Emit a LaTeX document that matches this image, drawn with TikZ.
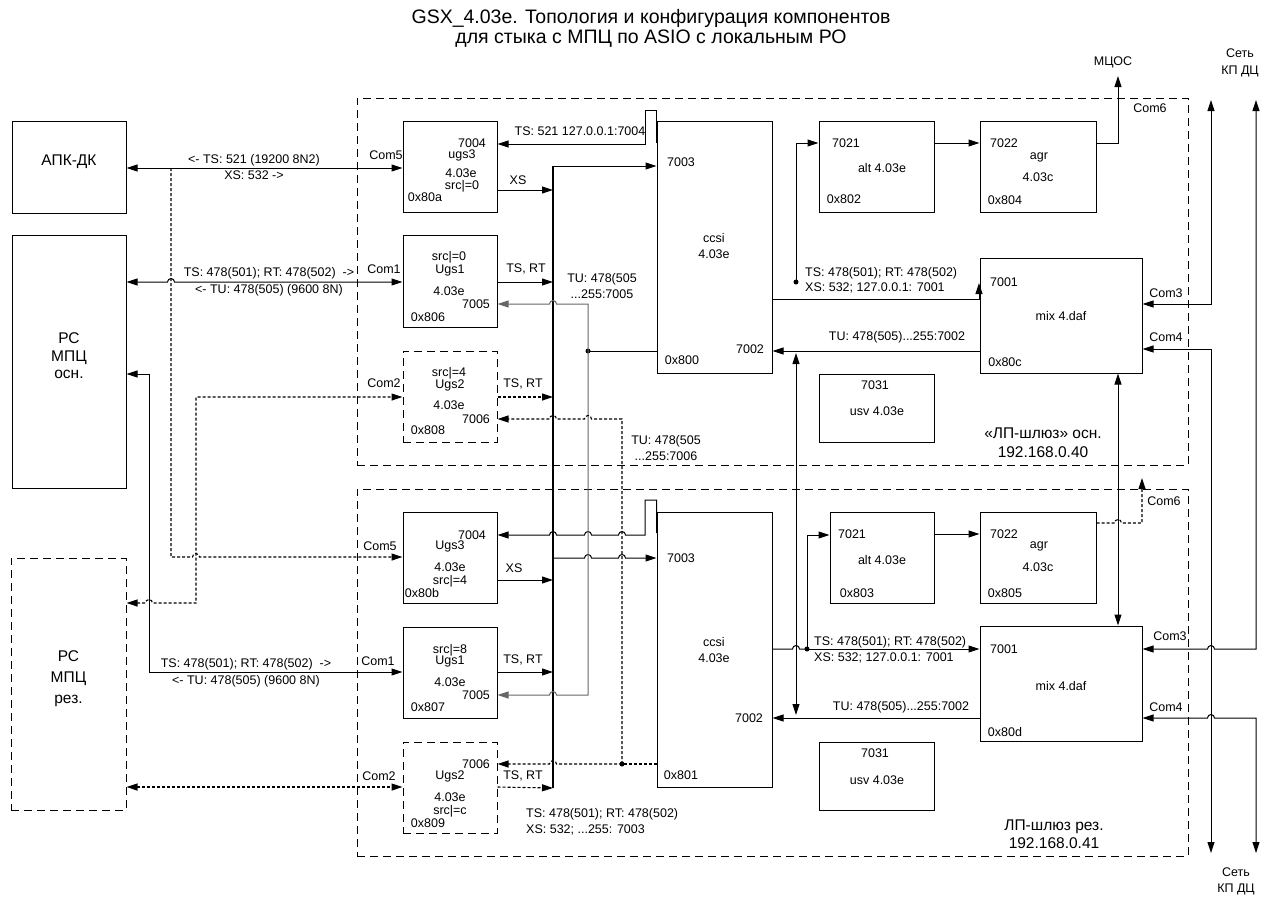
\documentclass[tikz,border=0pt]{standalone}
\usepackage{fontspec}
\setmainfont{Liberation Sans}
\usetikzlibrary{arrows.meta, positioning, calc, fit}

\begin{document}
\begin{tikzpicture}[
        x=1pt, y=-1pt,
        % Стили блоков
        modbox/.style={rectangle, draw=black, line width=1pt, inner sep=0pt, fit={#1}},
        resbox/.style={modbox={#1}, dash pattern=on 8pt off 5pt},
        tag/.style={font=\fontsize{12.5}{16}\selectfont, inner sep=0pt, align=center},
        bigtag/.style={font=\fontsize{15.5}{17.5}\selectfont, inner sep=0pt, align=center},
        % Стили связей
        link/.style={line width=1pt},
        arrow/.style={link, -{Triangle[length=11pt, width=7pt]}},
        biarrow/.style={link, {Triangle[length=11pt, width=7pt]}-{Triangle[length=11pt, width=7pt]}},
        dots/.style={line width=1.1pt, dash pattern=on 3pt off 2pt},
        bus/.style={line width=2.6pt},
        tap/.style={circle, fill=black, inner sep=0pt, minimum size=5pt}
    ]
    \useasboundingbox (0,0) rectangle (1271,898);

    % Заголовок
    \node (title) [font=\fontsize{19.5}{20}\selectfont, align=center] at (651,28)
        {GSX\_4.03e. Топология и конфигурация компонентов\\для стыка с МПЦ по ASIO с локальным РО};

    % Шлюзы
    \node (gwa) [resbox={(357,98) (1188,465)}] {};
    \node (gwb) [resbox={(357,489) (1188,856)}] {};
    \node (gwa-nm) [bigtag, font=\fontsize{15.5}{19}\selectfont] at (1043,442.5) {«ЛП-шлюз» осн.\\192.168.0.40};
    \node (gwb-nm) [bigtag, font=\fontsize{15.5}{18}\selectfont] at (1054,834) {ЛП-шлюз рез.\\192.168.0.41};

    % Внешние системы
    \node (apk) [modbox={(12,121) (126,213)}, bigtag] {АПК-ДК};
    \node (pcm) [modbox={(12,235) (126,488)}, bigtag] {РС\\МПЦ\\осн.};
    \node (pcr) [resbox={(11,558) (126,810)}, bigtag, font=\fontsize{15.5}{21}\selectfont] {РС\\МПЦ\\рез.};

    % 1. Основной шлюз
    \node (ugs3a) [modbox={(403,121) (497,212)}] {};
    \node (ugs3a-id) [tag] at (472,143) {7004};
    \node (ugs3a-nm) [tag] at (462,155) {ugs3};
    \node (ugs3a-v) [tag] at (461,173) {4.03e};
    \node (ugs3a-src) [tag] at (462,186) {src|=0};
    \node (ugs3a-adr) [tag] at (425,197) {0x80a};

    \node (ugs1a) [modbox={(403,235) (497,327)}] {};
    \node (ugs1a-src) [tag] at (449,257) {src|=0};
    \node (ugs1a-nm) [tag] at (450,270) {Ugs1};
    \node (ugs1a-v) [tag] at (449,291) {4.03e};
    \node (ugs1a-id) [tag] at (476,304) {7005};
    \node (ugs1a-adr) [tag] at (428,317) {0x806};

    \node (ugs2a) [resbox={(403,351) (497,442)}] {};
    \node (ugs2a-src) [tag] at (449,373) {src|=4};
    \node (ugs2a-nm) [tag] at (450,385) {Ugs2};
    \node (ugs2a-v) [tag] at (449,405) {4.03e};
    \node (ugs2a-id) [tag] at (476,419) {7006};
    \node (ugs2a-adr) [tag] at (428,430) {0x808};

    \node (ccsia) [modbox={(657,121) (772,373)}] {};
    \node (ccsia-in) [tag] at (681,162) {7003};
    \node (ccsia-nm) [tag] at (714,246) {ccsi\\4.03e};
    \node (ccsia-out) [tag] at (750,349) {7002};
    \node (ccsia-adr) [tag] at (682,360) {0x800};

    \node (alta) [modbox={(819,121) (934,212)}] {};
    \node (alta-id) [tag] at (846,143) {7021};
    \node (alta-nm) [tag] at (882,168) {alt 4.03e};
    \node (alta-adr) [tag] at (844,199) {0x802};

    \node (agra) [modbox={(980,121) (1096,212)}] {};
    \node (agra-id) [tag] at (1004,143) {7022};
    \node (agra-nm) [tag] at (1039,157) {agr};
    \node (agra-v) [tag] at (1038,177) {4.03c};
    \node (agra-adr) [tag] at (1005,200) {0x804};

    \node (mixa) [modbox={(980,258) (1142,373)}] {};
    \node (mixa-id) [tag] at (1004,282) {7001};
    \node (mixa-nm) [tag] at (1061,316) {mix 4.daf};
    \node (mixa-adr) [tag] at (1005,362) {0x80c};

    \node (usva) [modbox={(819,374) (934,442)}] {};
    \node (usva-id) [tag] at (875,385) {7031};
    \node (usva-nm) [tag] at (877,411) {usv 4.03e};

    % 2. Резервный шлюз
    \node (ugs3b) [modbox={(403,512) (497,603)}] {};
    \node (ugs3b-id) [tag] at (472,535) {7004};
    \node (ugs3b-nm) [tag] at (450,546) {Ugs3};
    \node (ugs3b-v) [tag] at (450,567) {4.03e};
    \node (ugs3b-src) [tag] at (450,581) {src|=4};
    \node (ugs3b-adr) [tag] at (422,593) {0x80b};

    \node (ugs1b) [modbox={(403,627) (497,718)}] {};
    \node (ugs1b-src) [tag] at (450,650) {src|=8};
    \node (ugs1b-nm) [tag] at (450,661) {Ugs1};
    \node (ugs1b-v) [tag] at (450,682) {4.03e};
    \node (ugs1b-id) [tag] at (476,695) {7005};
    \node (ugs1b-adr) [tag] at (428,707) {0x807};

    \node (ugs2b) [resbox={(403,742) (497,833)}] {};
    \node (ugs2b-id) [tag] at (476,764) {7006};
    \node (ugs2b-nm) [tag] at (450,776) {Ugs2};
    \node (ugs2b-v) [tag] at (450,797) {4.03e};
    \node (ugs2b-src) [tag] at (450,811) {src|=c};
    \node (ugs2b-adr) [tag] at (428,823) {0x809};

    \node (ccsib) [modbox={(657,512) (772,787)}] {};
    \node (ccsib-in) [tag] at (681,558) {7003};
    \node (ccsib-nm) [tag] at (714,650) {ccsi\\4.03e};
    \node (ccsib-out) [tag] at (749,718) {7002};
    \node (ccsib-adr) [tag] at (681,775) {0x801};

    \node (altb) [modbox={(830,512) (934,603)}] {};
    \node (altb-id) [tag] at (852,534) {7021};
    \node (altb-nm) [tag] at (882,560) {alt 4.03e};
    \node (altb-adr) [tag] at (857,593) {0x803};

    \node (agrb) [modbox={(980,512) (1096,603)}] {};
    \node (agrb-id) [tag] at (1004,534) {7022};
    \node (agrb-nm) [tag] at (1039,546) {agr};
    \node (agrb-v) [tag] at (1038,567) {4.03c};
    \node (agrb-adr) [tag] at (1005,593) {0x805};

    \node (mixb) [modbox={(980,626) (1142,741)}] {};
    \node (mixb-id) [tag] at (1004,649) {7001};
    \node (mixb-nm) [tag] at (1061,686) {mix 4.daf};
    \node (mixb-adr) [tag] at (1005,732) {0x80d};

    \node (usvb) [modbox={(819,742) (934,810)}] {};
    \node (usvb-id) [tag] at (875,753) {7031};
    \node (usvb-nm) [tag] at (877,780) {usv 4.03e};

    % Порты и подписи связей
    \node (com5a) [tag] at (386,155) {Com5};
    \node (com1a) [tag] at (384,269) {Com1};
    \node (com2a) [tag] at (384,383) {Com2};
    \node (com5b) [tag] at (380,546) {Com5};
    \node (com1b) [tag] at (378,661) {Com1};
    \node (com2b) [tag] at (379,776) {Com2};
    \node (com6a) [tag] at (1150,108) {Com6};
    \node (com3a) [tag] at (1166,293) {Com3};
    \node (com4a) [tag] at (1166,337) {Com4};
    \node (com6b) [tag] at (1164,501) {Com6};
    \node (com3b) [tag] at (1170,636) {Com3};
    \node (com4b) [tag] at (1166,707) {Com4};
    \node (mcos-t) [tag] at (1113,62) {МЦОС};
    \node (neta-t) [tag, font=\fontsize{12.5}{17}\selectfont] at (1240,62.5) {Сеть\\КП ДЦ};
    \node (netb-t) [tag] at (1236,881) {Сеть\\КП ДЦ};

    \node (apk-l) [tag] at (254,167) {<- TS: 521 (19200 8N2)\\XS: 532 ->};
    \node (pcm-l) [tag, font=\fontsize{12.5}{17}\selectfont] at (269,281.5) {TS: 478(501); RT: 478(502)~ ->\\<- TU: 478(505) (9600 8N)};
    \node (pcr-l) [tag, font=\fontsize{12.5}{17}\selectfont] at (246,672.5) {TS: 478(501); RT: 478(502)~ ->\\<- TU: 478(505) (9600 8N)};
    \node (ts7004) [tag] at (580,131) {TS: 521 127.0.0.1:7004};
    \node (xsa) [tag] at (518,180) {XS};
    \node (tsrt1a) [tag] at (526,269) {TS, RT};
    \node (tu7005) [tag] at (602,286) {TU: 478(505\\...255:7005};
    \node (tsrt2a) [tag] at (523,384) {TS, RT};
    \node (tu7006) [tag] at (666,448) {TU: 478(505\\...255:7006};
    \node (ts7001a) [tag, anchor=west, align=left, font=\fontsize{12.5}{15}\selectfont] at (805,280.5) {TS: 478(501); RT: 478(502)\\XS: 532; 127.0.0.1: 7001};
    \node (tu7002a) [tag] at (897,337) {TU: 478(505)...255:7002};
    \node (xsb) [tag] at (514,568) {XS};
    \node (tsrt1b) [tag] at (523,660) {TS, RT};
    \node (tsrt2b) [tag] at (523,776) {TS, RT};
    \node (ts7003) [tag, anchor=west, align=left] at (526,822) {TS: 478(501); RT: 478(502)\\XS: 532; ...255: 7003};
    \node (ts7001b) [tag, anchor=west, align=left] at (814,650) {TS: 478(501); RT: 478(502)\\XS: 532; 127.0.0.1: 7001};
    \node (tu7002b) [tag] at (901,707) {TU: 478(505)...255:7002};

    % Шина
    \coordinate (busT) at (553,166);
    \coordinate (busB) at (553,788);
    \draw[bus] (busT) -- (busB);

    % Слева: АПК-ДК и РС МПЦ
    \coordinate (apkbr) at (171,168);
    \draw[biarrow] (apk.east |- 0,168) -- (ugs3a.west |- 0,168);
    \draw[arrow, dots] (apkbr) -- (171,557) -- (192.5,557) arc (180:0:3.5pt) -- (ugs3b.west |- 0,557);
    \draw[biarrow] (pcm.east |- 0,282) -- (167.5,282) arc (180:0:3.5pt) -- (ugs1a.west |- 0,282);
    \draw[biarrow] (pcm.east |- 0,374) -- (149,374) -- (149,672) -- (ugs1b.west |- 0,672);
    \draw[biarrow, dots] (pcr.east |- 0,603) -- (145.5,603) arc (180:0:3.5pt) -- (196,603) -- (196,397) -- (ugs2a.west |- 0,397);
    \draw[biarrow, dots] (pcr.east |- 0,787) -- (ugs2b.west |- 0,787);

    % ugs -> шина -> ccsi
    \draw[arrow] (busT) -- (ccsia.west |- busT);
    \draw[arrow] (ugs3a.east |- 0,190) -- (busT |- 0,190);
    \draw[arrow] (ccsia.west |- 0,143) -- (ccsia.west |- 0,110) -- (645,110) -- (645,144) -- (ugs3a.east |- 0,144);
    \draw[arrow] (ugs1a.east |- 0,282) -- (busT |- 0,282);
    \draw[arrow, dots] (ugs2a.east |- 0,397) -- (busT |- 0,397);

    \draw[arrow] (ccsib.west |- 0,533) -- (ccsib.west |- 0,500) -- (645,500) -- (645,535) -- (625.5,535) arc (0:180:3.5pt)
        -- (591.5,535) arc (0:180:3.5pt) -- (556.5,535) arc (0:180:3.5pt) -- (ugs3b.east |- 0,535);
    \draw[arrow] (busT |- 0,558) -- (584.5,558) arc (180:0:3.5pt) -- (618.5,558) arc (180:0:3.5pt) -- (ccsib.west |- 0,558);
    \draw[arrow] (ugs3b.east |- 0,580) -- (busT |- 0,580);
    \draw[arrow] (ugs1b.east |- 0,672) -- (busT |- 0,672);
    \draw[arrow, dots] (ugs2b.east |- 0,787) -- (busB);

    % TU 7005
    \node (j7005) [tap] at (588,351) {};
    \draw[link] (ccsia.west |- j7005) -- (j7005.center);
    \draw[arrow, draw=black!60] (j7005.center) -- (588,304) -- (556.5,304) arc (0:180:3.5pt) -- (ugs1a.east |- 0,304);
    \draw[arrow, draw=black!60] (j7005.center) -- (588,695) -- (556.5,695) arc (0:180:3.5pt) -- (ugs1b.east |- 0,695);

    % TU 7006
    \node (j7006) [tap] at (622,764) {};
    \draw[dots] (ccsib.west |- j7006) -- (j7006.center);
    \draw[arrow, dots] (j7006.center) -- (622,419) -- (591.5,419) arc (0:180:3.5pt) -- (556.5,419) arc (0:180:3.5pt) -- (ugs2a.east |- 0,419);
    \draw[arrow, dots] (j7006.center) -- (556.5,764) arc (0:180:3.5pt) -- (ugs2b.east |- 0,764);

    % Справа: основной шлюз
    \draw[arrow] (ccsia.east |- 0,299) -- (979,299) -- (979,283);
    \node (jalta) [tap] at (796,282) {};
    \draw[arrow] (jalta.center) -- (796,143) -- (alta.west |- 0,143);
    \draw[arrow] (alta.east |- 0,143) -- (agra.west |- 0,143);
    \coordinate (mcos) at (1118,76);
    \draw[arrow] (agra.east |- 0,143) -- (mcos |- 0,143) -- (mcos);
    \draw[arrow] (mixa.west |- 0,351) -- (ccsia.east |- 0,351);

    % Справа: резервный шлюз
    \node (jaltb) [tap] at (807,649) {};
    \draw[link] (ccsib.east |- 0,649) -- (792.5,649) arc (180:0:3.5pt) -- (jaltb.center);
    \draw[arrow] (jaltb.center) -- (mixb.west |- 0,649);
    \draw[arrow] (jaltb.center) -- (807,535) -- (altb.west |- 0,535);
    \draw[arrow] (altb.east |- 0,534) -- (agrb.west |- 0,534);
    \draw[arrow, dots] (agrb.east |- 0,523) -- (1114.5,523) arc (180:0:3.5pt) -- (1142,523) -- (1142,478);
    \draw[arrow] (mixb.west |- 0,718) -- (ccsib.east |- 0,718);

    % Синхронизация осн. <-> рез.
    \coordinate (syncA) at (796,353);
    \coordinate (syncB) at (796,715);
    \draw[biarrow] (syncA) -- (syncB);
    \draw[biarrow] (1118,0 |- mixa.south) -- (1118,0 |- mixb.north);

    % Сеть КП ДЦ
    \coordinate (netTa) at (1211,100);
    \coordinate (netTb) at (1256,100);
    \coordinate (netBa) at (1211,853);
    \coordinate (netBb) at (1256,853);
    \draw[biarrow] (mixa.east |- 0,304) -- (netTa |- 0,304) -- (netTa);
    \draw[biarrow] (mixa.east |- 0,349) -- (netBa |- 0,349) -- (netBa);
    \draw[biarrow] (mixb.east |- 0,649) -- (1207.5,649) arc (180:0:3.5pt) -- (netTb |- 0,649) -- (netTb);
    \draw[biarrow] (mixb.east |- 0,718) -- (1207.5,718) arc (180:0:3.5pt) -- (netBb |- 0,718) -- (netBb);

\end{tikzpicture}
\end{document}
